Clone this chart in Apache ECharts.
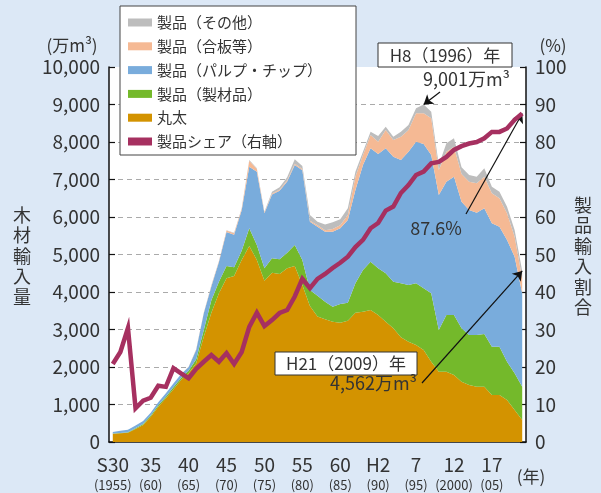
<!DOCTYPE html>
<html>
<head>
<meta charset="utf-8">
<script src="https://cdn.jsdelivr.net/npm/echarts@6/dist/echarts.min.js"></script>
<style>
html, body { margin: 0; padding: 0; background: #dce8f6; }
#chart { width: 601px; height: 493px; }
</style>
</head>
<body>
<div id="chart"></div>
<script>
// 木材輸入量の推移 (万m3) と製品シェア (%)
const years = ['1955','1956','1957','1958','1959','1960','1961','1962','1963','1964',
    '1965','1966','1967','1968','1969','1970','1971','1972','1973','1974',
    '1975','1976','1977','1978','1979','1980','1981','1982','1983','1984',
    '1985','1986','1987','1988','1989','1990','1991','1992','1993','1994',
    '1995','1996','1997','1998','1999','2000','2001','2002','2003','2004',
    '2005','2006','2007','2008','2009'];
// 5年ごとの目盛ラベル
const eraLabels = ['S30', '35', '40', '45', '50', '55', '60', 'H2', '7', '12', '17'];
const adLabels = ['(1955)', '(60)', '(65)', '(70)', '(75)', '(80)', '(85)', '(90)', '(95)', '(2000)', '(05)'];

const logs = [220, 231, 250, 346, 453, 676, 942, 1164, 1404, 1653,
    1831, 2098, 2808, 3450, 3965, 4365, 4427, 4854, 5227, 4854,
    4303, 4516, 4481, 4632, 4694, 4187, 3627, 3350, 3272, 3209,
    3183, 3236, 3449, 3476, 3520, 3387, 3209, 3032, 2792, 2676,
    2587, 2454, 2143, 1876, 1876, 1787, 1610, 1520, 1476, 1476,
    1254, 1254, 1120, 853, 587];
const sawn = [10, 9, 10, 24, 27, 34, 38, 46, 56, 57,
    69, 106, 179, 330, 311, 329, 231, 249, 471, 400,
    329, 382, 391, 418, 560, 667, 427, 550, 471, 401,
    497, 480, 783, 1111, 1290, 1245, 1289, 1244, 1440, 1511,
    1645, 1644, 1822, 1111, 1511, 1600, 1422, 1334, 1378, 1404,
    1289, 1289, 1023, 979, 889];
const pulp = [40, 60, 70, 70, 80, 70, 80, 90, 100, 100,
    100, 250, 444, 370, 524, 906, 872, 1077, 1645, 1955,
    1468, 1702, 1828, 1900, 2133, 2396, 1822, 1843, 1867, 2000,
    2018, 2205, 2489, 2800, 3022, 3049, 3334, 3334, 3289, 3556,
    3778, 3852, 3689, 3600, 3556, 3689, 3378, 3333, 3262, 3352,
    3289, 3200, 3244, 3111, 2489];
const plywood = [0, 0, 0, 0, 0, 0, 0, 0, 0, 0,
    10, 12, 14, 20, 20, 40, 40, 40, 157, 71,
    30, 30, 30, 30, 33, 30, 24, 37, 40, 70,
    82, 133, 355, 267, 356, 329, 489, 444, 622, 578,
    755, 815, 978, 667, 800, 800, 738, 756, 782, 844,
    800, 755, 711, 533, 400];
const others = [0, 0, 0, 0, 0, 0, 0, 0, 0, 0,
    0, 5, 5, 10, 10, 10, 10, 12, 21, 18,
    13, 46, 62, 80, 119, 81, 154, 96, 150, 180,
    160, 180, 133, 89, 88, 151, 89, 89, 133, 133,
    135, 236, 178, 133, 222, 222, 177, 178, 178, 222,
    178, 178, 178, 178, 197];
const share = [20.8, 24, 30.4, 9, 11, 11.8, 15, 14.7, 19.7, 18.3,
    17, 19.5, 21.4, 23.2, 21.4, 23.7, 20.8, 24, 30.7, 34.5,
    30.9, 32.5, 34.4, 35.2, 38.8, 43.5, 41, 43.5, 44.8, 46.4,
    47.8, 49.4, 52, 53.9, 57, 58.4, 61.7, 62.8, 66.4, 68.5,
    71.2, 72.1, 74.3, 74.7, 76, 77.9, 78.9, 79.6, 80, 81,
    82.7, 82.7, 83.6, 85.9, 87.6];

const FONT = "'Noto Sans CJK JP', 'Noto Sans', sans-serif";
const formatNumber = function (num) {
    return num.toString().replace(/(?=(\B)(\d{3})+$)/g, ',');
};

const chart = echarts.init(document.getElementById('chart'));

const areaSeries = function (name, data, color, extra) {
    return Object.assign({
        name: name,
        type: 'line',
        stack: 'total',
        data: data,
        symbol: 'none',
        color: color,
        itemStyle: { color: color },
        lineStyle: { width: 0 },
        areaStyle: { color: color, opacity: 1 },
        emphasis: { disabled: true },
        z: 2
    }, extra || {});
};

const arrowLine = {
    silent: true,
    symbol: ['none', 'arrow'],
    symbolSize: 9,
    label: { show: false },
    lineStyle: { color: '#111', width: 1.2, type: 'solid' },
    emphasis: { disabled: true }
};

const option = {
    animation: false,
    backgroundColor: '#dce8f6',
    textStyle: { fontFamily: FONT },
    grid: {
        left: 109, right: 75, top: 67, bottom: 51,
        show: true, backgroundColor: '#ffffff', borderWidth: 0
    },
    legend: {
        left: 120, top: 6,
        orient: 'vertical',
        icon: 'rect',
        itemWidth: 24, itemHeight: 8, itemGap: 8.8,
        padding: [9, 34, 6, 8],
        backgroundColor: '#ffffff',
        borderColor: '#444', borderWidth: 1,
        selectedMode: false,
        textStyle: { fontSize: 15, lineHeight: 15, color: '#333', fontFamily: FONT },
        data: ['製品（その他）', '製品（合板等）', '製品（パルプ・チップ）', '製品（製材品）', '丸太', '製品シェア（右軸）']
    },
    xAxis: {
        type: 'category',
        data: years,
        boundaryGap: true,
        axisLine: { lineStyle: { color: '#111', width: 1.5 } },
        axisTick: { inside: true, length: 6, interval: 4, lineStyle: { color: '#111', width: 1.2 } },
        axisLabel: {
            interval: 4,
            margin: 12,
            formatter: function (v, i) {
                const k = Math.round(i / 5);
                return '{a|' + eraLabels[k] + '}\n{b|' + adLabels[k] + '}';
            },
            rich: {
                a: { fontSize: 19, lineHeight: 22, color: '#333', fontFamily: FONT },
                b: { fontSize: 13, lineHeight: 18, color: '#333', fontFamily: FONT }
            }
        },
        splitLine: { show: false }
    },
    yAxis: [{
        type: 'value',
        min: 0, max: 10000, interval: 1000,
        axisLine: { show: true, lineStyle: { color: '#111', width: 1.5 } },
        axisTick: { show: true, inside: true, length: 6, lineStyle: { color: '#111', width: 1.2 } },
        axisLabel: { fontSize: 19, color: '#333', margin: 9, formatter: formatNumber },
        splitLine: { show: true, showMaxLine: false, showMinLine: false, lineStyle: { color: '#aaa', type: [5, 4], width: 1 } }
    }, {
        type: 'value',
        min: 0, max: 100, interval: 10,
        position: 'right',
        axisLine: { show: true, lineStyle: { color: '#111', width: 1.5 } },
        axisTick: { show: true, inside: true, length: 6, lineStyle: { color: '#111', width: 1.2 } },
        axisLabel: { fontSize: 19, color: '#333', margin: 9 },
        splitLine: { show: false }
    }],
    series: [
        areaSeries('丸太', logs, '#d39300'),
        areaSeries('製品（製材品）', sawn, '#74b92b'),
        areaSeries('製品（パルプ・チップ）', pulp, '#79acdc'),
        areaSeries('製品（合板等）', plywood, '#f5b994'),
        areaSeries('製品（その他）', others, '#bdbdbd', {
            markLine: Object.assign({}, arrowLine, {
                data: [
                    [{ x: 440, y: 92 }, { coord: ['1996', 9001] }],
                    [{ x: 422, y: 383 }, { coord: ['2009', 4562] }]
                ]
            })
        }),
        {
            name: '製品シェア（右軸）',
            type: 'line',
            yAxisIndex: 1,
            data: share,
            symbol: 'none',
            color: '#a63060',
            itemStyle: { color: '#a63060' },
            lineStyle: { color: '#a63060', width: 4.5, join: 'miter' },
            emphasis: { disabled: true },
            z: 5,
            markLine: Object.assign({}, arrowLine, {
                data: [
                    [{ x: 466, y: 214 }, { coord: ['2009', 87.6] }]
                ]
            })
        }
    ],
    graphic: [
        { type: 'text', style: { text: '(万m³)', x: 72, y: 46, align: 'center', verticalAlign: 'middle', font: '17px ' + FONT, fill: '#333' } },
        { type: 'text', style: { text: '(%)', x: 553, y: 46, align: 'center', verticalAlign: 'middle', font: '17px ' + FONT, fill: '#333' } },
        { type: 'text', style: { text: '(年)', x: 531, y: 477, align: 'center', verticalAlign: 'middle', font: '17px ' + FONT, fill: '#333' } },
        { type: 'text', style: { text: '木\n材\n輸\n入\n量', x: 22, y: 256, align: 'center', verticalAlign: 'middle', font: '18px ' + FONT, lineHeight: 20.5, fill: '#333' } },
        { type: 'text', style: { text: '製\n品\n輸\n入\n割\n合', x: 583, y: 256, align: 'center', verticalAlign: 'middle', font: '18px ' + FONT, lineHeight: 20.5, fill: '#333' } },
        { type: 'rect', z: 10, shape: { x: 378, y: 43, width: 134, height: 24 }, style: { fill: '#fff', stroke: '#333', lineWidth: 1 } },
        { type: 'text', z: 11, style: { text: 'H8（1996）年', x: 445, y: 55.5, align: 'center', verticalAlign: 'middle', font: '17px ' + FONT, fill: '#333' } },
        { type: 'text', z: 11, style: { text: '9,001万m³', x: 510, y: 79, align: 'right', verticalAlign: 'middle', font: '18px ' + FONT, fill: '#333' } },
        { type: 'text', z: 11, style: { text: '87.6%', x: 436, y: 228, align: 'center', verticalAlign: 'middle', font: '18px ' + FONT, fill: '#333' } },
        { type: 'rect', z: 10, shape: { x: 275, y: 352, width: 142, height: 23 }, style: { fill: '#fff', stroke: '#333', lineWidth: 1 } },
        { type: 'text', z: 11, style: { text: 'H21（2009）年', x: 346, y: 363.5, align: 'center', verticalAlign: 'middle', font: '17px ' + FONT, fill: '#333' } },
        { type: 'text', z: 11, style: { text: '4,562万m³', x: 417, y: 383, align: 'right', verticalAlign: 'middle', font: '18px ' + FONT, fill: '#333' } }
    ]
};

chart.setOption(option);
</script>
</body>
</html>
